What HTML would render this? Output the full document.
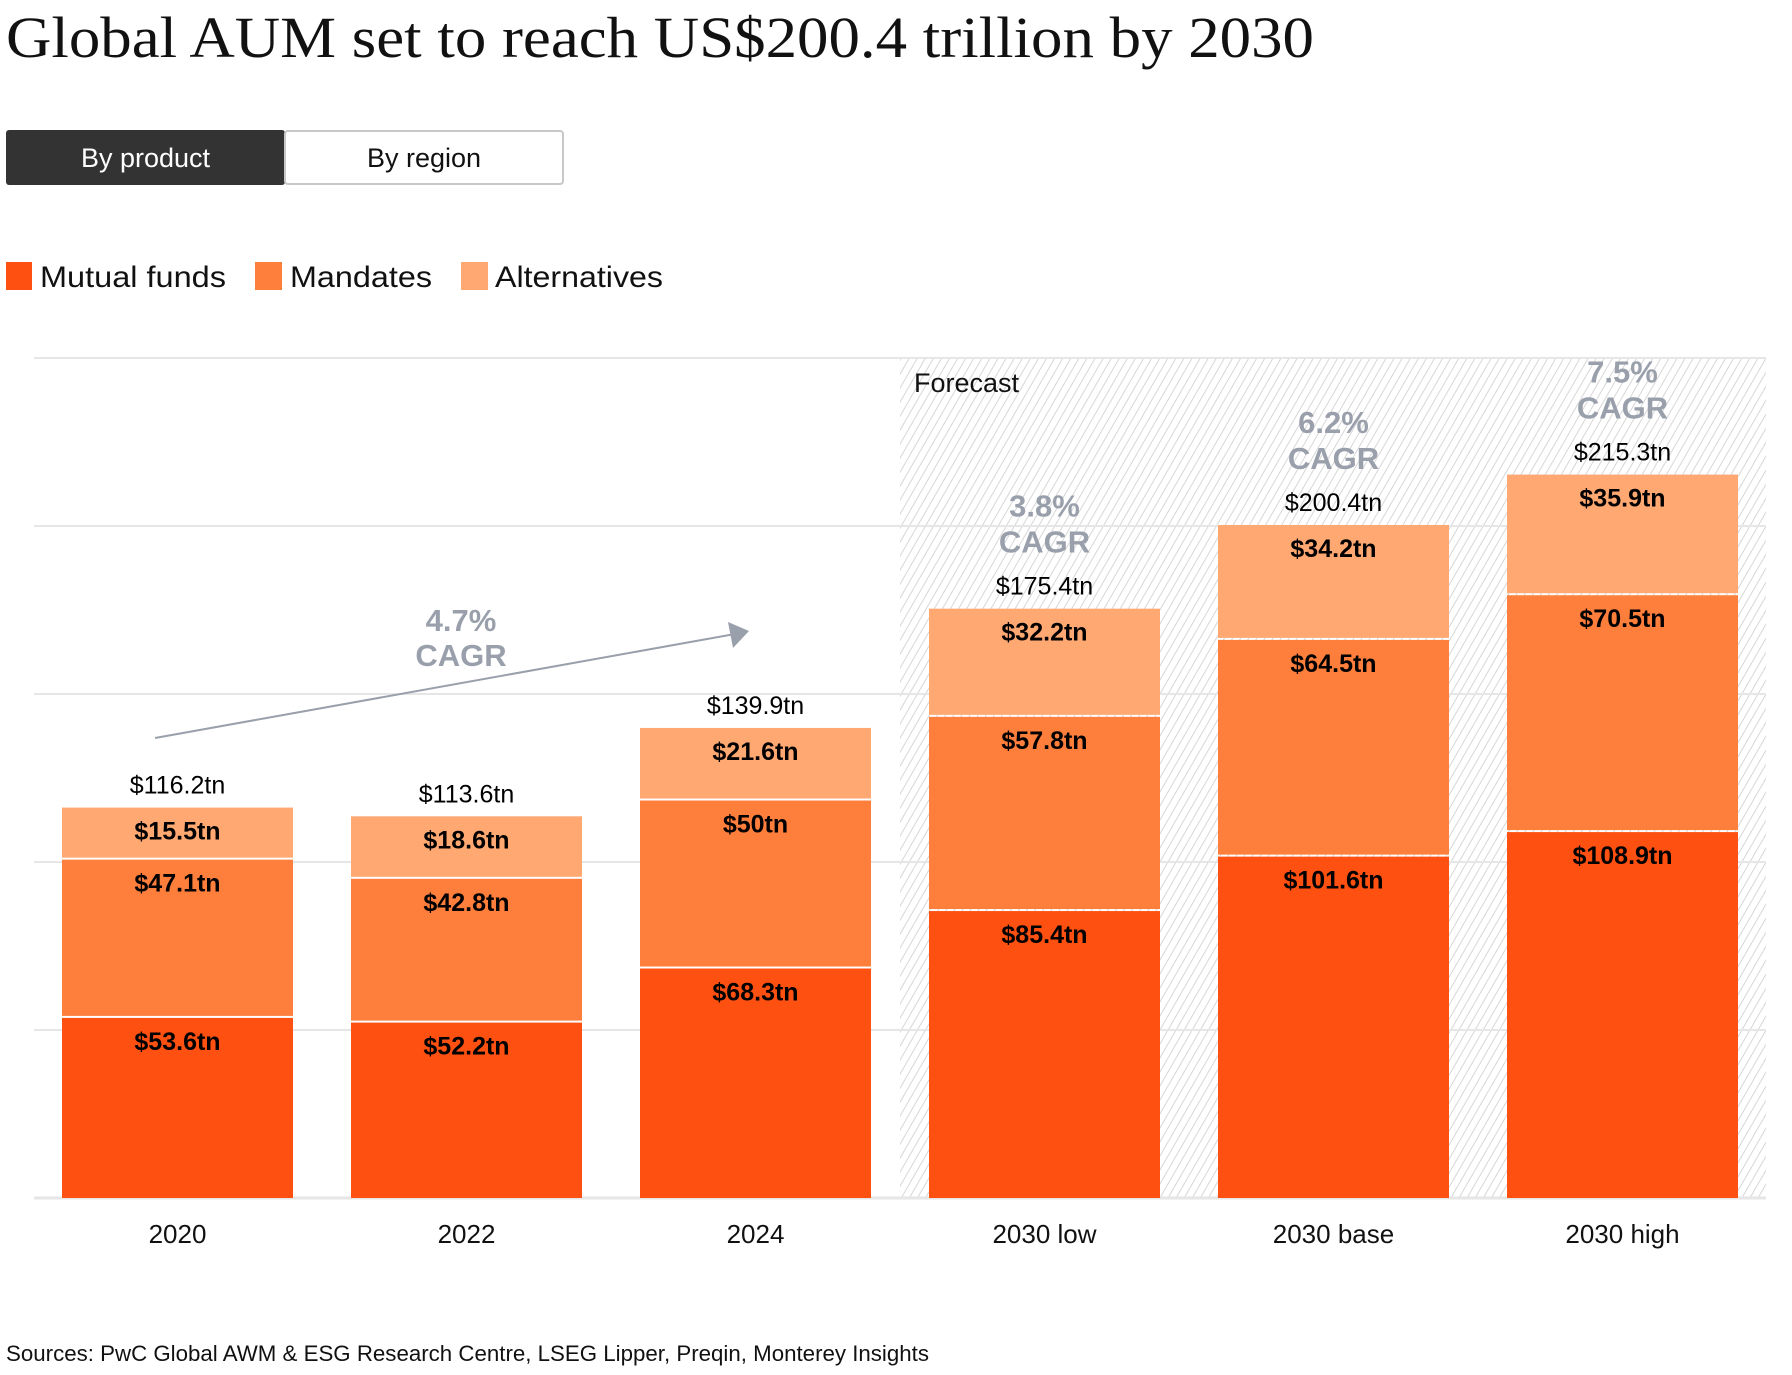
<!DOCTYPE html>
<html><head><meta charset="utf-8">
<style>
html,body{margin:0;padding:0;background:#fff;}
body{width:1792px;height:1370px;overflow:hidden;}
svg text{font-family:"Liberation Sans",Arial,sans-serif;}
</style></head>
<body>
<svg id="chart" width="1792" height="1370" viewBox="0 0 1792 1370" xmlns="http://www.w3.org/2000/svg">
<defs>
<pattern id="hatch" patternUnits="userSpaceOnUse" width="7" height="7" patternTransform="rotate(30)">
<rect width="7" height="7" fill="#fff"/>
<line x1="0" y1="0" x2="0" y2="7" stroke="#d6d6d6" stroke-width="2"/>
</pattern>
</defs>
<text x="6" y="57" font-family="Liberation Serif, serif" style="font-family:'Liberation Serif',serif" font-size="58" textLength="1308" lengthAdjust="spacingAndGlyphs" fill="#111">Global AUM set to reach US$200.4 trillion by 2030</text>

<g>
<rect x="6" y="130" width="279" height="55" rx="3" fill="#333333"/>
<text x="145.5" y="167" text-anchor="middle" font-size="27" fill="#fff">By product</text>
<rect x="285" y="131" width="278" height="53" rx="3" fill="#fff" stroke="#c8c8c8" stroke-width="2"/>
<text x="424" y="167" text-anchor="middle" font-size="27" fill="#111">By region</text>
</g>

<g>
<rect x="6" y="262" width="26" height="28" fill="#fe5011"/>
<text x="40" y="287" font-size="30" textLength="186" lengthAdjust="spacingAndGlyphs" fill="#111">Mutual funds</text>
<rect x="255" y="262" width="27" height="28" fill="#fe7e3c"/>
<text x="290" y="287" font-size="30" textLength="142" lengthAdjust="spacingAndGlyphs" fill="#111">Mandates</text>
<rect x="461" y="262" width="27" height="28" fill="#ffa872"/>
<text x="495" y="287" font-size="30" textLength="168" lengthAdjust="spacingAndGlyphs" fill="#111">Alternatives</text>
</g>

<rect x="900" y="358" width="866" height="840" fill="url(#hatch)"/>
<text x="914" y="392" font-size="27" fill="#111">Forecast</text>
<g id="grid"></g>
<g id="bars"></g>
<g id="labels"></g>

<g>
<line x1="155" y1="738" x2="735" y2="634" stroke="#9aa0ab" stroke-width="2"/>
<polygon points="749,631 728,622 733,648" fill="#9aa0ab"/>
<text x="461" y="631" text-anchor="middle" font-size="31" font-weight="bold" fill="#9aa0ab">4.7%</text>
<text x="461" y="666" text-anchor="middle" font-size="31" font-weight="bold" fill="#9aa0ab">CAGR</text>
</g>

<text x="6" y="1361" font-size="22" textLength="923" lengthAdjust="spacingAndGlyphs" fill="#111">Sources: PwC Global AWM &amp; ESG Research Centre, LSEG Lipper, Preqin, Monterey Insights</text>
</svg>
<script>
const categories = ["2020","2022","2024","2030 low","2030 base","2030 high"];
const mutualFunds = [53.6, 52.2, 68.3, 85.4, 101.6, 108.9];
const mandates = [47.1, 42.8, 50, 57.8, 64.5, 70.5];
const alternatives = [15.5, 18.6, 21.6, 32.2, 34.2, 35.9];
const totals = [116.2, 113.6, 139.9, 175.4, 200.4, 215.3];
const cagrLabels = [null, null, null, "3.8%", "6.2%", "7.5%"];
const gridTicks = [0, 50, 100, 150, 200, 250];

const NS = "http://www.w3.org/2000/svg";
const baseY = 1198, pxPerTn = 3.36, barLeft0 = 62, step = 289, barW = 231;
function y(v){ return baseY - v * pxPerTn; }
function xLeft(i){ return barLeft0 + i * step; }
function xCenter(i){ return xLeft(i) + barW / 2; }
function mk(tag, attrs, parent){
  const el = document.createElementNS(NS, tag);
  for (const k in attrs) el.setAttribute(k, attrs[k]);
  parent.appendChild(el);
  return el;
}
const grid = document.getElementById('grid');
gridTicks.forEach(t => {
  const l = mk('line', {x1:34, x2:1766, y1:y(t), y2:y(t), stroke:'#e6e6e6', 'stroke-width': t===0?3:2}, grid);
  
  
});
const bars = document.getElementById('bars');
const labels = document.getElementById('labels');
const series = [
  {vals: mutualFunds, color:'#fe5011', name:'mutual-funds'},
  {vals: mandates, color:'#fe7e3c', name:'mandates'},
  {vals: alternatives, color:'#ffa872', name:'alternatives'}
];
categories.forEach((c, i) => {
  let cum = 0;
  series.forEach(s => {
    const v = s.vals[i];
    const top = y(cum + v), bot = y(cum);
    const r = mk('rect', {x:xLeft(i), y:top, width:barW, height:Math.max(0, bot - top - (cum>0?2:0)), fill:s.color}, bars);
    
    
    const t = mk('text', {x:xCenter(i), y:top + 32, 'text-anchor':'middle', 'font-size':25, 'font-weight':'bold', fill:'#000'}, labels);
    t.textContent = '$' + v + 'tn';
    
    
    cum += v;
  });
  const top = y(cum);
  const tt = mk('text', {x:xCenter(i), y:top - 14, 'text-anchor':'middle', 'font-size':25, fill:'#000'}, labels);
  tt.textContent = '$' + totals[i] + 'tn';
  
  
  if (cagrLabels[i]) {
    const a = mk('text', {x:xCenter(i), y:top - 92, 'text-anchor':'middle', 'font-size':31, 'font-weight':'bold', fill:'#9aa0ab'}, labels);
    a.textContent = cagrLabels[i];
    
    
    const b = mk('text', {x:xCenter(i), y:top - 56, 'text-anchor':'middle', 'font-size':31, 'font-weight':'bold', fill:'#9aa0ab'}, labels);
    b.textContent = 'CAGR';
    
    
  }
  const xl = mk('text', {x:xCenter(i), y:1243, 'text-anchor':'middle', 'font-size':26, fill:'#111'}, labels);
  xl.textContent = c;
  
  
});
</script>
</body></html>
